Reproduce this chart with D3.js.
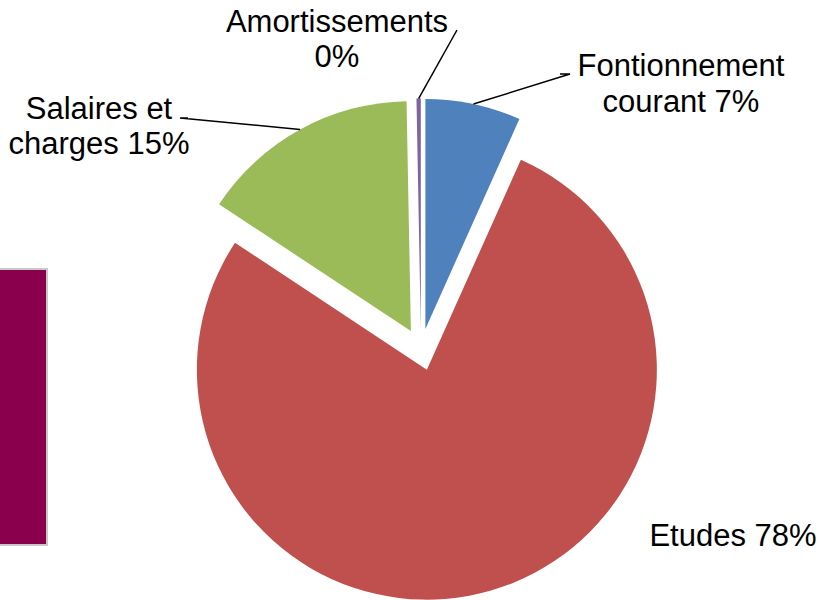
<!DOCTYPE html>
<html>
<head>
<meta charset="utf-8">
<script src="https://cdn.jsdelivr.net/npm/d3@7"></script>
<style>
  html, body { margin: 0; padding: 0; background: #fff; }
  svg { display: block; }
  text { font-family: "Liberation Sans", Arial, sans-serif; font-size: 31px; fill: #000; }
</style>
</head>
<body>
<svg id="chart" width="824" height="600"></svg>
<script>
// ---- data ----
const categories = ["Fontionnement courant", "Etudes", "Salaires et charges", "Amortissements"];
const values = [6.7, 77.6, 15.4, 0.3];
const percentLabels = ["7%", "78%", "15%", "0%"];
const labelLines = [
  ["Fontionnement", "courant 7%"],
  ["Etudes 78%"],
  ["Salaires et", "charges 15%"],
  ["Amortissements", "0%"]
];
const colors = ["#4F81BD", "#C0504D", "#9BBB59", "#8064A2"];

// ---- layout ----
const W = 824, H = 600;
const cx = 421, cy = 349.5, R = 230, explode = 21;
const lineH = 35.5;
// label anchor (center x, first baseline y) and leader polyline end points
const labelLayout = [
  { x: 681, y: 76, leader: [[570, 74], [560, 74]] },
  { x: 733, y: 545.5, leader: null },
  { x: 99, y: 118.5, leader: [[180, 118], [188, 118]] },
  { x: 337, y: 31.5, leader: [[457, 30]] }
];

const svg = d3.select("#chart");

// decorative panel on the left
svg.append("rect").attr("x", -2).attr("y", 269).attr("width", 49).attr("height", 276)
  .attr("fill", "#8A004C").attr("stroke", "#C8C8C8").attr("stroke-width", 2);

const pie = d3.pie().sort(null).value(d => d)(values);
const arc = d3.arc().innerRadius(0).outerRadius(R);

const g = svg.append("g").attr("transform", `translate(${cx},${cy})`);

pie.forEach((p, i) => {
  const mid = (p.startAngle + p.endAngle) / 2;
  const ox = Math.sin(mid) * explode, oy = -Math.cos(mid) * explode;
  g.append("path")
    .attr("d", arc(p))
    .attr("transform", `translate(${ox},${oy})`)
    .attr("fill", colors[i]);

  const L = labelLayout[i];
  if (L.leader) {
    const sx = ox + Math.sin(mid) * R, sy = oy - Math.cos(mid) * R;
    const pts = [[cx + sx, cy + sy]].concat(L.leader);
    svg.append("path")
      .attr("d", d3.line()(pts))
      .attr("fill", "none").attr("stroke", "#000").attr("stroke-width", 1.5);
  }
  const t = svg.append("text").attr("text-anchor", "middle");
  labelLines[i].forEach((s, k) => {
    t.append("tspan").attr("x", L.x).attr("y", L.y + k * lineH).text(s);
  });
});
</script>
</body>
</html>
